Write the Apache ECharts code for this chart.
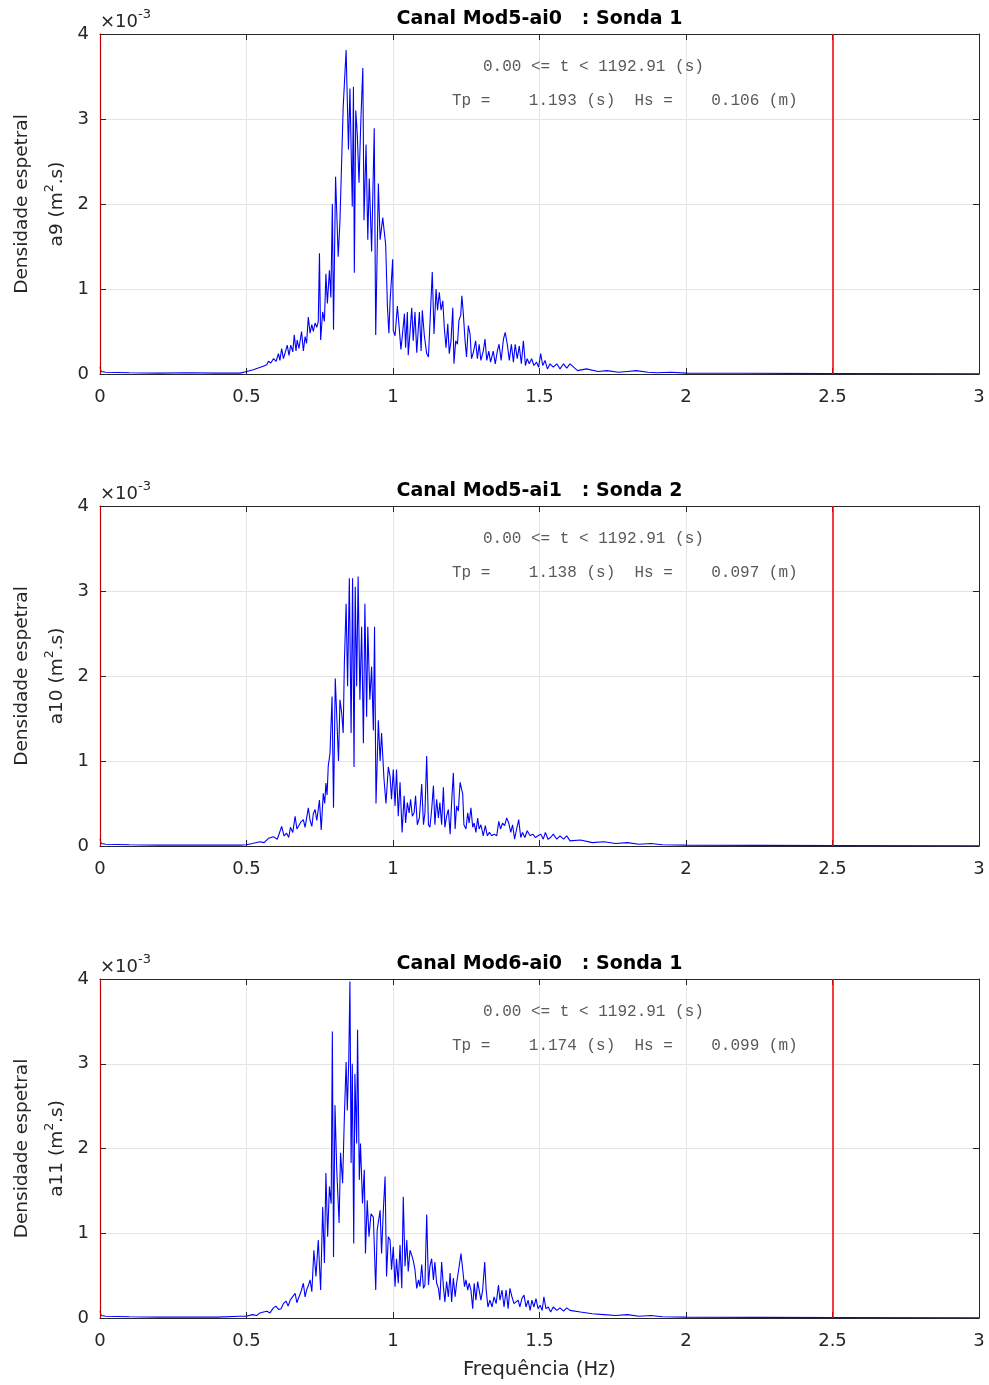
<!DOCTYPE html>
<html>
<head>
<meta charset="utf-8">
<script src="https://cdn.jsdelivr.net/npm/echarts@6/dist/echarts.min.js"></script>
<style>
html,body{margin:0;padding:0;background:#fff;}
#chart{width:989px;height:1385px;}
</style>
</head>
<body>
<div id="chart"></div>
<script>
// ---------- data: [frequency (Hz), PSD (x1e-3 m^2.s)] ----------
const xTicks = [0, 0.5, 1, 1.5, 2, 2.5, 3];
const yTicks = [0, 1, 2, 3, 4];
const redLines = [0, 2.5];

const titles = ['Canal Mod5-ai0   : Sonda 1', 'Canal Mod5-ai1   : Sonda 2', 'Canal Mod6-ai0   : Sonda 1'];
const yNames = ['a9', 'a10', 'a11'];
const tpValues = ['1.193', '1.138', '1.174'];
const hsValues = ['0.106', '0.097', '0.099'];
const timeWindow = '0.00 <= t < 1192.91 (s)';

const spectrum1 = [[0,0.08],[0.004,0.03],[0.02,0.02],[0.1,0.015],[0.2,0.01],[0.3,0.015],[0.4,0.01],[0.478,0.01],[0.501,0.03],[0.523,0.05],[0.540,0.07],[0.546,0.05],[0.557,0.09],[0.569,0.11],[0.575,0.15],[0.583,0.13],[0.592,0.18],[0.601,0.15],[0.609,0.24],[0.614,0.16],[0.620,0.30],[0.626,0.18],[0.631,0.24],[0.639,0.34],[0.645,0.22],[0.651,0.34],[0.658,0.26],[0.663,0.46],[0.669,0.27],[0.673,0.40],[0.679,0.30],[0.688,0.50],[0.694,0.27],[0.700,0.44],[0.705,0.36],[0.711,0.67],[0.717,0.48],[0.723,0.58],[0.728,0.50],[0.734,0.60],[0.740,0.55],[0.745,0.62],[0.749,1.42],[0.753,0.40],[0.760,0.73],[0.766,0.62],[0.771,1.18],[0.776,0.83],[0.783,1.22],[0.788,0.9],
[0.793,2.0],[0.797,0.52],[0.804,2.32],[0.813,1.38],[0.819,1.8],[0.830,3.14],[0.840,3.81],[0.848,2.64],[0.853,3.36],[0.861,1.97],[0.865,3.38],[0.868,1.19],[0.873,3.1],[0.878,2.83],[0.884,2.25],[0.890,2.95],[0.897,3.6],[0.901,1.81],[0.908,2.7],[0.914,1.58],[0.919,2.3],[0.927,1.44],[0.936,2.89],[0.941,0.46],[0.950,2.24],[0.956,1.58],[0.965,1.84],[0.975,1.52],[0.981,0.79],[0.986,0.48],[0.990,0.86],[0.999,1.35],
[1.001,0.51],[1.007,0.45],[1.015,0.80],[1.022,0.51],[1.027,0.29],[1.033,0.49],[1.039,0.71],[1.043,0.31],[1.049,0.73],[1.052,0.22],[1.058,0.49],[1.064,0.78],[1.069,0.39],[1.075,0.73],[1.081,0.25],[1.090,0.73],[1.096,0.27],[1.100,0.75],[1.107,0.45],[1.115,0.24],[1.121,0.20],[1.126,0.18],[1.134,1.20],[1.140,0.47],[1.147,1.0],[1.152,0.75],[1.158,0.96],[1.164,0.75],[1.170,0.86],[1.175,0.55],[1.181,0.31],[1.187,0.59],[1.192,0.24],[1.198,0.39],[1.204,0.78],[1.208,0.12],[1.214,0.39],[1.220,0.35],[1.225,0.63],[1.231,0.69],[1.235,0.92],[1.240,0.71],[1.246,0.39],[1.251,0.20],[1.257,0.57],[1.263,0.47],[1.268,0.18],[1.274,0.25],[1.282,0.39],[1.288,0.18],[1.294,0.35],[1.300,0.16],[1.308,0.27],[1.314,0.41],[1.320,0.16],[1.327,0.27],[1.333,0.14],[1.342,0.27],[1.349,0.12],[1.356,0.27],[1.362,0.35],[1.369,0.16],[1.377,0.41],[1.383,0.49],[1.390,0.35],[1.397,0.16],[1.404,0.35],[1.411,0.14],[1.417,0.35],[1.424,0.18],[1.431,0.33],[1.438,0.12],[1.445,0.39],[1.452,0.10],[1.458,0.18],[1.465,0.12],[1.473,0.18],[1.481,0.10],[1.490,0.14],[1.497,0.08],[1.504,0.24],[1.511,0.10],[1.519,0.16],[1.527,0.06],[1.536,0.12],[1.547,0.08],[1.559,0.12],[1.570,0.06],[1.582,0.12],[1.593,0.07],[1.604,0.12],
[1.63,0.04],[1.66,0.06],[1.7,0.03],[1.73,0.04],[1.77,0.02],[1.8,0.03],[1.83,0.04],[1.87,0.02],[1.9,0.015],[1.95,0.02],[2.0,0.01],[2.2,0.008],[2.5,0.005],[3.0,0.003]];

const spectrum2 = [[0,0.08],[0.004,0.03],[0.02,0.02],[0.1,0.015],[0.2,0.01],[0.3,0.012],[0.4,0.01],[0.478,0.01],[0.5,0.015],[0.52,0.03],[0.546,0.05],[0.56,0.04],[0.575,0.09],[0.592,0.11],[0.605,0.08],[0.620,0.23],[0.628,0.12],[0.637,0.15],[0.644,0.1],[0.65,0.22],[0.658,0.16],[0.666,0.35],[0.672,0.2],[0.677,0.19],[0.685,0.28],[0.694,0.31],[0.700,0.22],[0.711,0.45],[0.717,0.3],[0.723,0.23],[0.728,0.38],[0.734,0.43],[0.740,0.3],[0.749,0.54],[0.755,0.19],[0.762,0.62],[0.767,0.5],[0.771,0.74],[0.775,0.6],[0.779,0.94],[0.785,1.09],[0.792,1.76],[0.797,0.45],
[0.803,1.97],[0.814,1.0],[0.819,1.72],[0.825,1.56],[0.830,1.33],[0.834,2.15],[0.840,2.85],[0.845,1.88],[0.851,3.15],[0.857,1.33],[0.862,3.15],[0.867,0.93],[0.871,3.05],[0.876,1.88],[0.881,3.17],[0.887,1.72],[0.893,2.58],[0.899,1.21],[0.904,2.85],[0.910,1.52],[0.914,2.58],[0.921,1.72],[0.927,2.11],[0.933,1.36],[0.937,2.58],[0.942,0.50],[0.950,1.48],[0.956,1.0],[0.961,1.33],[0.969,0.8],[0.976,0.5],[0.984,0.93],
[0.990,0.82],[0.995,0.55],[1.001,0.90],[1.007,0.47],[1.012,0.90],[1.018,0.35],[1.024,0.75],[1.031,0.16],[1.038,0.59],[1.043,0.27],[1.049,0.51],[1.055,0.39],[1.060,0.55],[1.066,0.35],[1.072,0.39],[1.077,0.59],[1.083,0.25],[1.090,0.33],[1.098,0.73],[1.104,0.25],[1.109,0.39],[1.115,1.06],[1.121,0.25],[1.126,0.22],[1.132,0.43],[1.138,0.71],[1.143,0.25],[1.149,0.55],[1.155,0.33],[1.160,0.51],[1.166,0.25],[1.172,0.69],[1.177,0.22],[1.183,0.35],[1.189,0.43],[1.195,0.14],[1.200,0.51],[1.206,0.86],[1.212,0.20],[1.217,0.47],[1.223,0.41],[1.229,0.75],[1.232,0.77],[1.238,0.61],[1.242,0.25],[1.249,0.20],[1.255,0.39],[1.260,0.27],[1.266,0.45],[1.272,0.22],[1.277,0.27],[1.283,0.16],[1.289,0.33],[1.294,0.20],[1.300,0.25],[1.308,0.12],[1.315,0.24],[1.322,0.12],[1.329,0.16],[1.337,0.12],[1.345,0.14],[1.354,0.12],[1.361,0.29],[1.367,0.20],[1.374,0.27],[1.381,0.24],[1.388,0.33],[1.395,0.27],[1.402,0.16],[1.408,0.25],[1.415,0.08],[1.422,0.20],[1.429,0.31],[1.436,0.10],[1.442,0.16],[1.450,0.10],[1.458,0.18],[1.468,0.12],[1.477,0.14],[1.486,0.10],[1.495,0.12],[1.504,0.14],[1.513,0.08],[1.520,0.16],[1.529,0.08],[1.538,0.10],[1.547,0.14],[1.559,0.08],[1.570,0.12],[1.582,0.08],[1.593,0.12],[1.604,0.06],
[1.64,0.07],[1.68,0.04],[1.72,0.05],[1.76,0.03],[1.8,0.04],[1.84,0.02],[1.88,0.03],[1.92,0.015],[2.0,0.01],[2.5,0.005],[3.0,0.003]];

const spectrum3 = [[0,0.08],[0.004,0.03],[0.02,0.02],[0.1,0.015],[0.2,0.01],[0.3,0.012],[0.4,0.01],[0.478,0.02],[0.5,0.02],[0.52,0.04],[0.535,0.03],[0.546,0.06],[0.558,0.07],[0.57,0.08],[0.58,0.06],[0.592,0.12],[0.60,0.14],[0.61,0.1],[0.618,0.11],[0.626,0.17],[0.635,0.2],[0.642,0.14],[0.649,0.21],[0.657,0.25],[0.666,0.29],[0.672,0.18],[0.677,0.23],[0.685,0.3],[0.694,0.41],[0.70,0.25],[0.705,0.33],[0.711,0.38],[0.717,0.45],[0.723,0.31],[0.730,0.80],[0.737,0.49],[0.745,0.92],[0.753,0.33],[0.760,1.31],[0.766,0.65],[0.771,1.71],[0.777,0.96],[0.783,1.55],[0.789,1.35],
[0.793,3.38],[0.797,0.72],[0.802,2.51],[0.808,1.75],[0.816,1.12],[0.821,1.95],[0.828,1.59],[0.834,2.37],[0.840,3.02],[0.844,2.45],[0.849,3.04],[0.853,3.97],[0.857,1.83],[0.861,3.0],[0.866,0.88],[0.870,2.88],[0.876,2.06],[0.879,3.40],[0.885,1.63],[0.889,2.06],[0.896,1.35],[0.902,1.75],[0.906,0.76],[0.912,1.39],[0.918,0.96],[0.925,1.23],[0.933,1.19],[0.941,0.33],[0.946,1.04],[0.956,1.27],[0.961,0.76],[0.967,1.27],[0.973,1.67],[0.978,0.49],[0.984,0.96],
[0.990,0.92],[0.995,0.57],[1.001,0.84],[1.007,0.37],[1.012,0.70],[1.018,0.41],[1.024,0.86],[1.030,0.35],[1.035,1.43],[1.041,0.61],[1.047,0.92],[1.052,0.55],[1.058,0.80],[1.064,0.74],[1.069,0.68],[1.075,0.57],[1.081,0.35],[1.087,0.45],[1.092,0.37],[1.098,0.63],[1.104,0.35],[1.109,0.39],[1.115,1.22],[1.121,0.39],[1.126,0.61],[1.132,0.70],[1.138,0.45],[1.143,0.66],[1.149,0.41],[1.155,0.35],[1.160,0.21],[1.166,0.66],[1.172,0.37],[1.177,0.19],[1.183,0.43],[1.189,0.25],[1.195,0.53],[1.200,0.19],[1.206,0.47],[1.212,0.25],[1.217,0.41],[1.225,0.59],[1.232,0.76],[1.238,0.57],[1.244,0.37],[1.249,0.45],[1.255,0.33],[1.260,0.41],[1.266,0.33],[1.272,0.11],[1.277,0.41],[1.283,0.21],[1.289,0.43],[1.294,0.33],[1.300,0.21],[1.306,0.33],[1.313,0.66],[1.318,0.33],[1.324,0.13],[1.331,0.21],[1.338,0.13],[1.345,0.25],[1.352,0.17],[1.360,0.39],[1.365,0.21],[1.372,0.33],[1.379,0.13],[1.386,0.33],[1.393,0.11],[1.399,0.35],[1.406,0.25],[1.413,0.17],[1.420,0.19],[1.427,0.21],[1.433,0.13],[1.440,0.23],[1.447,0.27],[1.454,0.13],[1.461,0.21],[1.468,0.09],[1.474,0.21],[1.481,0.13],[1.488,0.23],[1.495,0.11],[1.502,0.15],[1.509,0.09],[1.515,0.25],[1.522,0.11],[1.530,0.13],[1.538,0.07],[1.547,0.13],[1.559,0.09],[1.570,0.12],[1.582,0.08],[1.593,0.12],[1.604,0.09],
[1.64,0.07],[1.68,0.05],[1.72,0.04],[1.76,0.03],[1.8,0.04],[1.84,0.02],[1.88,0.03],[1.92,0.015],[2.0,0.01],[2.5,0.005],[3.0,0.003]];

const spectra = [spectrum1, spectrum2, spectrum3];

// ---------- layout ----------
const FONT = 'DejaVu Sans, Liberation Sans, Arial, sans-serif';
const MONO = 'Liberation Mono, Courier New, monospace';
const AX = '#262626';
const GRIDC = '#e4e4e4';
const panels = [{top: 34, height: 340}, {top: 506, height: 340}, {top: 979, height: 339}];
const L = 100, W = 879;

const option = {animation: false, backgroundColor: '#fff', grid: [], xAxis: [], yAxis: [], series: [], graphic: []};

panels.forEach((p, i) => {
  option.grid.push({left: L, top: p.top, width: W, height: p.height, containLabel: false});
  const xBase = {type: 'value', gridIndex: i, min: xTicks[0], max: xTicks[xTicks.length - 1], interval: xTicks[1] - xTicks[0]};
  const yBase = {type: 'value', gridIndex: i, min: yTicks[0], max: yTicks[yTicks.length - 1], interval: yTicks[1] - yTicks[0]};
  const line = {show: true, onZero: false, lineStyle: {color: AX, width: 1}};
  const tick = {show: true, inside: true, length: 6, lineStyle: {color: AX}};
  option.xAxis.push(Object.assign({}, xBase, {
    position: 'bottom', axisLine: line, axisTick: tick,
    axisLabel: {show: true, color: AX, fontSize: 18, fontFamily: FONT, margin: 14},
    splitLine: {show: true, lineStyle: {color: GRIDC, width: 1}}
  }));
  option.xAxis.push(Object.assign({}, xBase, {
    position: 'top', axisLine: line, axisTick: tick, axisLabel: {show: false}, splitLine: {show: false}
  }));
  option.yAxis.push(Object.assign({}, yBase, {
    position: 'left', axisLine: line, axisTick: tick,
    axisLabel: {show: true, color: AX, fontSize: 18, fontFamily: FONT, margin: 11},
    splitLine: {show: true, lineStyle: {color: GRIDC, width: 1}}
  }));
  option.yAxis.push(Object.assign({}, yBase, {
    position: 'right', axisLine: line, axisTick: tick, axisLabel: {show: false}, splitLine: {show: false}
  }));
  option.series.push({
    type: 'line',
    xAxisIndex: 2 * i,
    yAxisIndex: 2 * i,
    data: spectra[i],
    showSymbol: false,
    symbol: 'none',
    lineStyle: {color: '#0000ff', width: 1.1},
    z: 3,
    markLine: {
      silent: true,
      symbol: ['none', 'none'],
      label: {show: false},
      animation: false,
      data: redLines.map(v => ({xAxis: v, lineStyle: {color: v === 0 ? '#c00000' : '#ff0000', width: v === 0 ? 1.2 : 1.5, type: 'solid'}}))
    }
  });

  const cx = L + W / 2;
  option.graphic.push({type: 'text', x: cx, y: p.top - 15, z: 10,
    style: {text: titles[i], font: 'bold 19px ' + FONT, fill: '#000', textAlign: 'center', textVerticalAlign: 'middle'}});
  option.graphic.push({type: 'text', x: L, y: p.top - 12, z: 10,
    style: {text: '{a|\u00d710}{b|-3}', textAlign: 'left', textVerticalAlign: 'middle',
      rich: {a: {fontSize: 18, fontFamily: FONT, fill: AX, lineHeight: 28},
             b: {fontSize: 13, fontFamily: FONT, fill: AX, lineHeight: 12, verticalAlign: 'top'}}}});
  option.graphic.push({type: 'text', x: 483, y: p.top + 33, z: 10,
    style: {text: timeWindow, font: '16px ' + MONO, fill: '#5a5a5a', textAlign: 'left', textVerticalAlign: 'middle'}});
  option.graphic.push({type: 'text', x: 452, y: p.top + 67, z: 10,
    style: {text: 'Tp =    ' + tpValues[i] + ' (s)  Hs =    ' + hsValues[i] + ' (m)', font: '16px ' + MONO, fill: '#5a5a5a', textAlign: 'left', textVerticalAlign: 'middle'}});
  const cy = p.top + p.height / 2;
  option.graphic.push({type: 'text', x: 22, y: cy, rotation: Math.PI / 2, z: 10,
    style: {text: 'Densidade espetral', font: '18.5px ' + FONT, fill: AX, textAlign: 'center', textVerticalAlign: 'middle'}});
  option.graphic.push({type: 'text', x: 57, y: cy, rotation: Math.PI / 2, z: 10,
    style: {text: '{n|' + yNames[i] + ' (m}{s|2}{n|.s)}', textAlign: 'center', textVerticalAlign: 'middle',
      rich: {n: {fontSize: 18.5, fontFamily: FONT, fill: AX, lineHeight: 28},
             s: {fontSize: 12.5, fontFamily: FONT, fill: AX, lineHeight: 12, verticalAlign: 'top'}}}});
});

option.graphic.push({type: 'text', x: L + W / 2, y: 1370, z: 10,
  style: {text: 'Frequência (Hz)', font: '19.5px ' + FONT, fill: AX, textAlign: 'center', textVerticalAlign: 'middle'}});

const chart = echarts.init(document.getElementById('chart'), null, {renderer: 'canvas'});
chart.setOption(option);
</script>
</body>
</html>
